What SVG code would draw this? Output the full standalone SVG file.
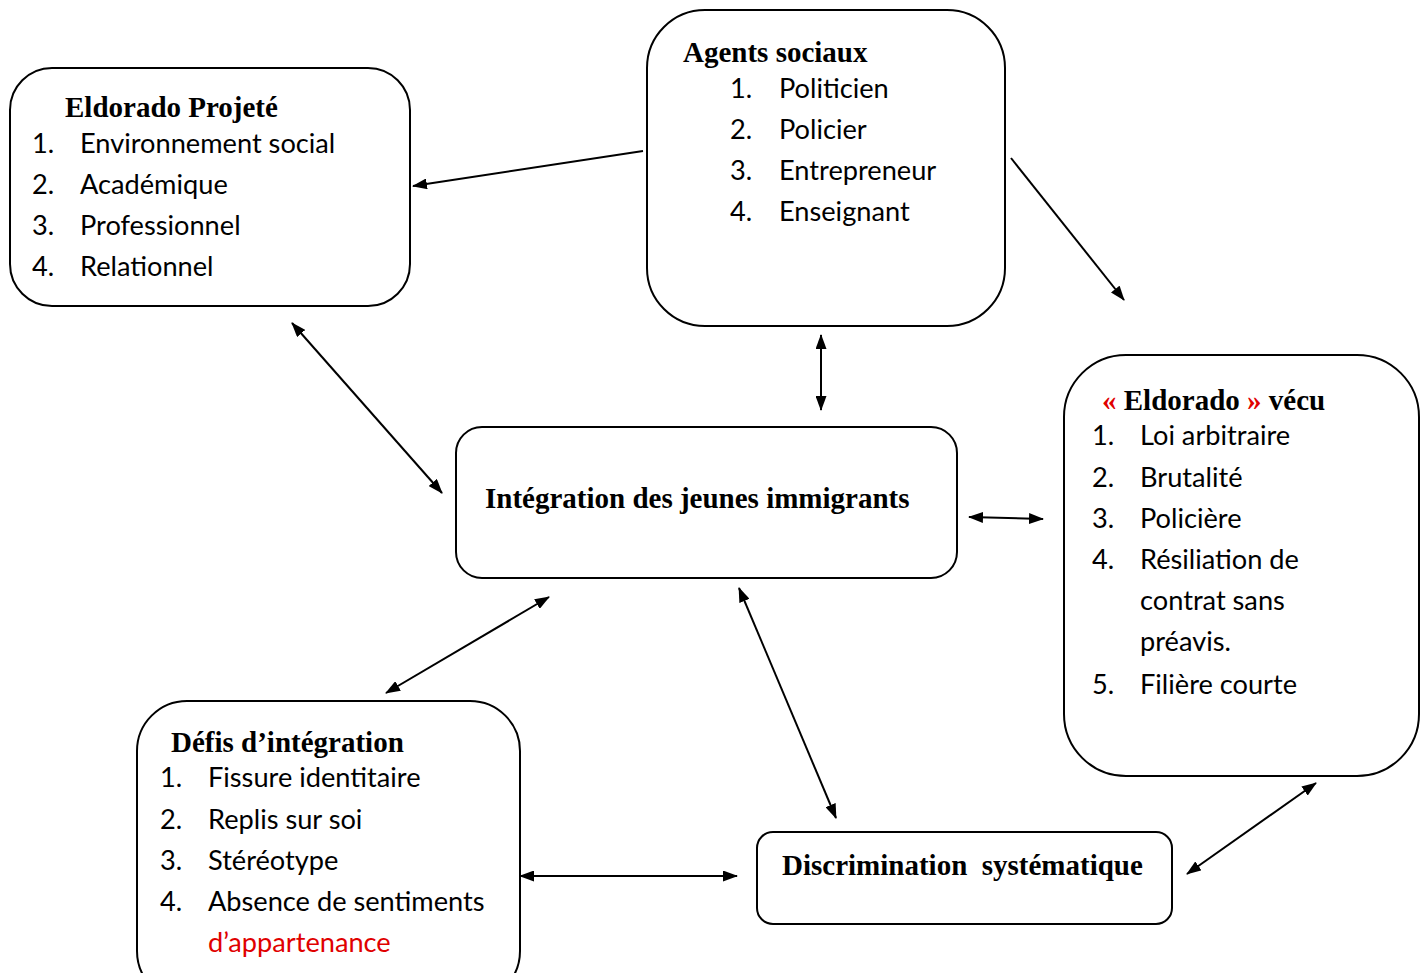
<svg xmlns="http://www.w3.org/2000/svg" width="1428" height="973" viewBox="0 0 1428 973">
<style>
.box{fill:#fff;stroke:#000;stroke-width:2}
.h{font-family:"Liberation Serif","Times New Roman",serif;font-weight:bold;font-size:29px;fill:#000;white-space:pre}
.t{font-family:Lato,"Liberation Sans",sans-serif;font-size:27.2px;fill:#000}
.red{fill:#e00000}
.c line{stroke:#000;stroke-width:2;marker-end:url(#ah)}
.c line.b{marker-start:url(#ah)}
</style>
<defs>
<marker id="ah" viewBox="0 0 15 11" refX="14" refY="5.5" markerWidth="15" markerHeight="11" markerUnits="userSpaceOnUse" orient="auto-start-reverse">
<path d="M0,0 L15,5.5 L0,11 Z" fill="#000"/>
</marker>
</defs>
<rect width="1428" height="973" fill="#fff"/>
<g id="eldorado-projete">
<rect class="box" x="10" y="68" width="400" height="238" rx="42"/>
<text class="h" x="65" y="117">Eldorado Projeté</text>
<text class="t" x="32" y="153">1.</text><text class="t" x="80" y="153">Environnement social</text>
<text class="t" x="32" y="194">2.</text><text class="t" x="80" y="194">Académique</text>
<text class="t" x="32" y="235">3.</text><text class="t" x="80" y="235">Professionnel</text>
<text class="t" x="32" y="276">4.</text><text class="t" x="80" y="276">Relationnel</text>
</g>
<g id="agents-sociaux">
<rect class="box" x="647" y="10" width="358" height="316" rx="58"/>
<text class="h" x="683" y="62">Agents sociaux</text>
<text class="t" x="730" y="98">1.</text><text class="t" x="779" y="98">Politicien</text>
<text class="t" x="730" y="139">2.</text><text class="t" x="779" y="139">Policier</text>
<text class="t" x="730" y="180">3.</text><text class="t" x="779" y="180">Entrepreneur</text>
<text class="t" x="730" y="221">4.</text><text class="t" x="779" y="221">Enseignant</text>
</g>
<g id="eldorado-vecu">
<rect class="box" x="1064" y="355" width="355" height="421" rx="62"/>
<text class="h" x="1102" y="410"><tspan class="red">«</tspan> Eldorado <tspan class="red">»</tspan> vécu</text>
<text class="t" x="1092" y="445">1.</text><text class="t" x="1140" y="445">Loi arbitraire</text>
<text class="t" x="1092" y="487">2.</text><text class="t" x="1140" y="487">Brutalité</text>
<text class="t" x="1092" y="528">3.</text><text class="t" x="1140" y="528">Policière</text>
<text class="t" x="1092" y="569">4.</text><text class="t" x="1140" y="569">Résiliation de</text>
<text class="t" x="1140" y="610">contrat sans</text>
<text class="t" x="1140" y="651">préavis.</text>
<text class="t" x="1092" y="694">5.</text><text class="t" x="1140" y="694">Filière courte</text>
</g>
<g id="integration">
<rect class="box" x="456" y="427" width="501" height="151" rx="26"/>
<text class="h" x="485" y="508">Intégration des jeunes immigrants</text>
</g>
<g id="defis">
<rect class="box" x="137" y="701" width="383" height="300" rx="50"/>
<text class="h" x="171" y="752">Défis d’intégration</text>
<text class="t" x="160" y="787">1.</text><text class="t" x="208" y="787">Fissure identitaire</text>
<text class="t" x="160" y="829">2.</text><text class="t" x="208" y="829">Replis sur soi</text>
<text class="t" x="160" y="870">3.</text><text class="t" x="208" y="870">Stéréotype</text>
<text class="t" x="160" y="911">4.</text><text class="t" x="208" y="911">Absence de sentiments</text>
<text class="t red" x="208" y="952">d’appartenance</text>
</g>
<g id="discrimination">
<rect class="box" x="757" y="832" width="415" height="92" rx="16"/>
<text class="h" x="782" y="875">Discrimination  systématique</text>
</g>
<g id="connectors" class="c">
<line x1="643" y1="151" x2="413" y2="186"/>
<line x1="1011" y1="158" x2="1124" y2="300"/>
<line class="b" x1="292" y1="323" x2="442" y2="493"/>
<line class="b" x1="821" y1="335" x2="821" y2="410"/>
<line class="b" x1="969" y1="517" x2="1043" y2="519"/>
<line class="b" x1="549" y1="597" x2="386" y2="693"/>
<line class="b" x1="739" y1="588" x2="836" y2="818"/>
<line class="b" x1="520" y1="876" x2="737" y2="876"/>
<line class="b" x1="1316" y1="783" x2="1187" y2="874"/>
</g>
</svg>
